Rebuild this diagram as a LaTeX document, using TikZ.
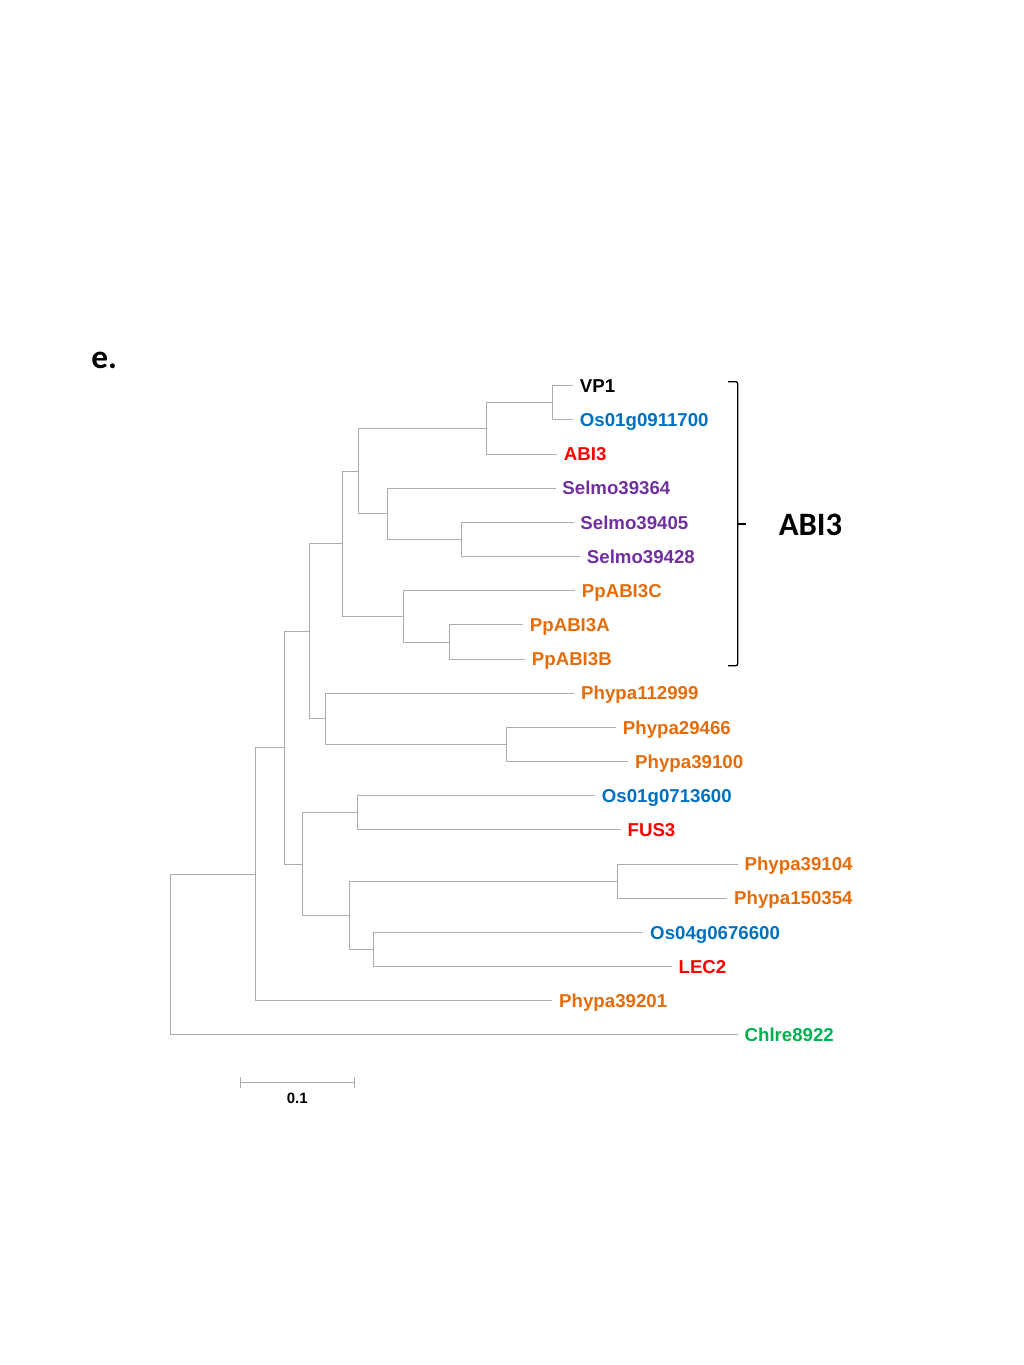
\documentclass[tikz,border=0pt]{standalone}
\usepackage{fontspec}
\setmainfont{Liberation Sans}
\newfontfamily\calib{Carlito}
\definecolor{cOrange}{HTML}{E46C0A}
\definecolor{cBlue}{HTML}{0070C0}
\definecolor{cRed}{HTML}{FF0000}
\definecolor{cPurple}{HTML}{7030A0}
\definecolor{cGreen}{HTML}{00B050}
\definecolor{cBranch}{HTML}{ACACAC}
\tikzset{
  br/.style={draw=cBranch, line width=0.75pt},
  leaf/.style={anchor=west, inner xsep=5pt, inner ysep=0pt, text height=10.0pt, text depth=0pt,
    font=\fontsize{14}{16}\selectfont\bfseries},
  orangeleaf/.style={leaf, text=cOrange},
  blueleaf/.style={leaf, text=cBlue},
  redleaf/.style={leaf, text=cRed},
  purpleleaf/.style={leaf, text=cPurple},
  greenleaf/.style={leaf, text=cGreen},
  blackleaf/.style={leaf, text=black},
}
\begin{document}
\begin{tikzpicture}[x=0.75pt, y=-0.75pt]
\useasboundingbox (0,0) rectangle (1024,1365);
% panel label
\node[anchor=base west, inner sep=0pt, font=\calib\fontsize{25}{28}\selectfont\bfseries] (panel) at (91,368.5) {e.};
% leaves
\node[blackleaf]  (vp1)  at (573.0,385.7)  {VP1};
\node[blueleaf]   (os09) at (573.0,419.9)  {Os01g0911700};
\node[redleaf]    (abi3) at (557.0,454.0)  {ABI3};
\node[purpleleaf] (s64)  at (555.5,488.2)  {Selmo39364};
\node[purpleleaf] (s05)  at (573.5,522.4)  {Selmo39405};
\node[purpleleaf] (s28)  at (580.0,556.6)  {Selmo39428};
\node[orangeleaf] (ppc)  at (575.0,590.7)  {PpABI3C};
\node[orangeleaf] (ppa)  at (523.0,624.9)  {PpABI3A};
\node[orangeleaf] (ppb)  at (525.0,659.1)  {PpABI3B};
\node[orangeleaf] (p112) at (574.3,693.2)  {Phypa112999};
\node[orangeleaf] (p294) at (616.0,727.4)  {Phypa29466};
\node[orangeleaf] (p391) at (628.3,761.6)  {Phypa39100};
\node[blueleaf]   (os07) at (595.0,795.7)  {Os01g0713600};
\node[redleaf]    (fus3) at (620.7,829.9)  {FUS3};
\node[orangeleaf] (p3914) at (737.7,864.1) {Phypa39104};
\node[orangeleaf] (p150) at (727.3,898.3)  {Phypa150354};
\node[blueleaf]   (os04) at (643.3,932.4)  {Os04g0676600};
\node[redleaf]    (lec2) at (671.7,966.6)  {LEC2};
\node[orangeleaf] (p392) at (552.3,1000.8) {Phypa39201};
\node[greenleaf]  (chl)  at (737.7,1034.9) {Chlre8922};
% internal nodes
\coordinate (n1)  at (552.3,402.8);
\coordinate (n2)  at (486.0,428.4);
\coordinate (n3)  at (461.0,539.5);
\coordinate (n4)  at (387.3,513.85);
\coordinate (n5)  at (358.3,471.1);
\coordinate (n6)  at (449.3,642.0);
\coordinate (n7)  at (403.3,616.35);
\coordinate (n8)  at (342.3,543.7);
\coordinate (n9)  at (506.7,744.5);
\coordinate (n10) at (325.3,718.85);
\coordinate (n11) at (309.3,631.3);
\coordinate (n12) at (357.3,812.8);
\coordinate (n13) at (617.3,881.2);
\coordinate (n14) at (373.3,949.5);
\coordinate (n15) at (349.3,915.35);
\coordinate (n16) at (302.3,864.1);
\coordinate (n17) at (284.3,747.7);
\coordinate (n18) at (255.7,874.25);
\coordinate (root) at (170.0,954.6);
% branches
\draw[br] (n1) |- (vp1.west);  \draw[br] (n1) |- (os09.west);
\draw[br] (n2) |- (n1);        \draw[br] (n2) |- (abi3.west);
\draw[br] (n3) |- (s05.west);  \draw[br] (n3) |- (s28.west);
\draw[br] (n4) |- (s64.west);  \draw[br] (n4) |- (n3);
\draw[br] (n5) |- (n2);        \draw[br] (n5) |- (n4);
\draw[br] (n6) |- (ppa.west);  \draw[br] (n6) |- (ppb.west);
\draw[br] (n7) |- (ppc.west);  \draw[br] (n7) |- (n6);
\draw[br] (n8) |- (n5);        \draw[br] (n8) |- (n7);
\draw[br] (n9) |- (p294.west); \draw[br] (n9) |- (p391.west);
\draw[br] (n10) |- (p112.west);\draw[br] (n10) |- (n9);
\draw[br] (n11) |- (n8);       \draw[br] (n11) |- (n10);
\draw[br] (n12) |- (os07.west);\draw[br] (n12) |- (fus3.west);
\draw[br] (n13) |- (p3914.west);\draw[br] (n13) |- (p150.west);
\draw[br] (n14) |- (os04.west);\draw[br] (n14) |- (lec2.west);
\draw[br] (n15) |- (n13);      \draw[br] (n15) |- (n14);
\draw[br] (n16) |- (n12);      \draw[br] (n16) |- (n15);
\draw[br] (n17) |- (n11);      \draw[br] (n17) |- (n16);
\draw[br] (n18) |- (n17);      \draw[br] (n18) |- (p392.west);
\draw[br] (root) |- (n18);     \draw[br] (root) |- (chl.west);
% bracket
\draw[line width=1pt, rounded corners=1.5pt] (728,381.7) -- (737.7,381.7) -- (737.7,665.7) -- (728,665.7);
\draw[line width=1pt] (737.7,524) -- (746,524);
\node[anchor=west, inner sep=0pt, text height=15.8pt, text depth=0pt,
  font=\calib\fontsize{24.5}{28}\selectfont\bfseries] (clade) at (778.5,525.3) {ABI3};
% scale bar
\coordinate (sb1) at (240.7,1082.7);
\coordinate (sb2) at (354.3,1082.7);
\draw[br] (sb1) -- (sb2);
\draw[br] (240.7,1077) -- (240.7,1088);
\draw[br] (354.3,1077) -- (354.3,1088);
\node[inner sep=0pt, font=\fontsize{11.25}{13}\selectfont\bfseries] (sblabel) at (297.3,1098.5) {0.1};
\end{tikzpicture}
\end{document}
